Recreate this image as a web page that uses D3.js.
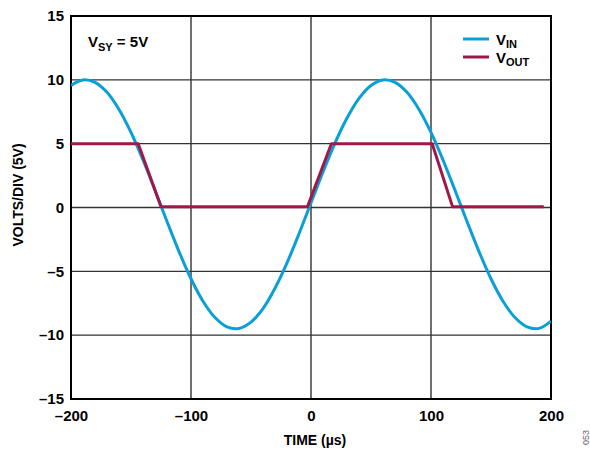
<!DOCTYPE html>
<html>
<head>
<meta charset="utf-8">
<script src="https://cdn.jsdelivr.net/npm/d3@7"></script>
<style>
  body { margin: 0; background: #fff; }
  svg { display: block; }
  text { font-family: "Liberation Sans", Arial, sans-serif; font-weight: bold; fill: #000; }
</style>
</head>
<body>
<div id="chart"></div>
<script>
// data
var timeUs = [-200,-190,-180,-170,-160,-150,-140,-130,-120,-110,-100,-90,-80,-70,-60,-50,-40,-30,-20,-10,
              0,10,20,30,40,50,60,70,80,90,100,110,120,130,140,150,160,170,180,190,200];
var vin = [9.56,9.99,9.80,9.02,7.68,5.88,3.72,1.35,-1.09,-3.45,-5.58,-7.34,-8.62,-9.35,-9.47,-8.98,-7.92,-6.33,-4.34,-2.06,
           0.37,2.79,5.05,7.01,8.55,9.56,9.99,9.80,9.02,7.68,5.88,3.72,1.35,-1.09,-3.45,-5.58,-7.34,-8.62,-9.35,-9.47,-8.9];
var voutTime = [-200,-144,-125,-3,17,101,118,194];
var vout = [5,5,0.05,0.05,5,5,0.05,0.05];
var xTicks = [-200,-100,0,100,200];
var yTicks = [-15,-10,-5,0,5,10,15];

var width = 590, height = 451;
var margin = {left: 71, right: 39, top: 16, bottom: 52};

var svg = d3.select("#chart").append("svg")
    .attr("width", width)
    .attr("height", height);

var x = d3.scaleLinear().domain([-200, 200]).range([margin.left, width - margin.right]);
var y = d3.scaleLinear().domain([-15, 15]).range([height - margin.bottom, margin.top]);

var fmt = function(d) { return d < 0 ? "\u2013" + Math.abs(d) : String(d); };

//----- grid -----
svg.append("g")
    .selectAll("line")
    .data(xTicks)
    .join("line")
    .attr("x1", d => x(d)).attr("x2", d => x(d))
    .attr("y1", y(-15)).attr("y2", y(15))
    .attr("stroke", "#222").attr("stroke-width", 1.3);

svg.append("g")
    .selectAll("line")
    .data(yTicks)
    .join("line")
    .attr("x1", x(-200)).attr("x2", x(200))
    .attr("y1", d => y(d)).attr("y2", d => y(d))
    .attr("stroke", "#333").attr("stroke-width", 1.3);

// frame
svg.append("rect")
    .attr("x", x(-200)).attr("y", y(15))
    .attr("width", x(200) - x(-200)).attr("height", y(-15) - y(15))
    .attr("fill", "none").attr("stroke", "#000").attr("stroke-width", 2);

//----- axes (labels only) -----
var xAxis = svg.append("g")
    .attr("transform", "translate(0," + y(-15) + ")")
    .call(d3.axisBottom(x).tickValues(xTicks).tickFormat(fmt).tickSize(0).tickPadding(11));
var yAxis = svg.append("g")
    .attr("transform", "translate(" + x(-200) + ",0)")
    .call(d3.axisLeft(y).tickValues(yTicks).tickFormat(fmt).tickSize(0).tickPadding(7));
[xAxis, yAxis].forEach(function(a) {
  a.select(".domain").remove();
  a.selectAll("text")
    .attr("font-family", "Liberation Sans, Arial, sans-serif")
    .attr("font-weight", "bold")
    .attr("font-size", 15)
    .attr("fill", "#000");
});

//----- series -----
var inLine = d3.line()
    .x((d, i) => x(timeUs[i]))
    .y(d => y(d))
    .curve(d3.curveCatmullRom);

var outLine = d3.line()
    .x((d, i) => x(voutTime[i]))
    .y(d => y(d));

var clip = svg.append("clipPath").attr("id", "plotclip")
  .append("rect")
    .attr("x", x(-200)).attr("y", y(15))
    .attr("width", x(200) - x(-200)).attr("height", y(-15) - y(15));

svg.append("path")
    .datum(vin)
    .attr("d", inLine)
    .attr("fill", "none")
    .attr("stroke", "#0a9fd6")
    .attr("stroke-width", 3)
    .attr("clip-path", "url(#plotclip)");

svg.append("path")
    .datum(vout)
    .attr("d", outLine)
    .attr("fill", "none")
    .attr("stroke", "#a01848")
    .attr("stroke-width", 3)
    .attr("stroke-linejoin", "round");

//----- annotations -----
var vsy = svg.append("text")
    .attr("x", 88).attr("y", 47)
    .attr("font-size", 15);
vsy.append("tspan").text("V");
vsy.append("tspan").attr("font-size", 11).attr("dy", 4).text("SY");
vsy.append("tspan").attr("dy", -4).text(" = 5V");

// legend
var legendItems = [
  {name: "V", sub: "IN", color: "#0a9fd6", y: 39},
  {name: "V", sub: "OUT", color: "#a01848", y: 57}
];
var lg = svg.append("g");
lg.selectAll("line")
    .data(legendItems)
    .join("line")
    .attr("x1", 463).attr("x2", 489)
    .attr("y1", d => d.y).attr("y2", d => d.y)
    .attr("stroke", d => d.color)
    .attr("stroke-width", 3);
var lt = lg.selectAll("text")
    .data(legendItems)
    .join("text")
    .attr("x", 496)
    .attr("y", d => d.y + 6)
    .attr("font-size", 15);
lt.append("tspan").text(d => d.name);
lt.append("tspan").attr("font-size", 11).attr("dy", 3).text(d => d.sub);

// axis titles
svg.append("text")
    .attr("x", x(0) + 4).attr("y", 445)
    .attr("text-anchor", "middle")
    .attr("font-size", 14)
    .text("TIME (\u00b5s)");

svg.append("text")
    .attr("transform", "translate(23," + 195 + ") rotate(-90)")
    .attr("text-anchor", "middle")
    .attr("font-size", 14)
    .text("VOLTS/DIV (5V)");

svg.append("text")
    .attr("transform", "translate(589,445) rotate(-90)")
    .attr("font-size", 9)
    .attr("font-weight", "normal")
    .style("font-weight", "normal")
    .style("fill", "#666")
    .text("053");
</script>
</body>
</html>
